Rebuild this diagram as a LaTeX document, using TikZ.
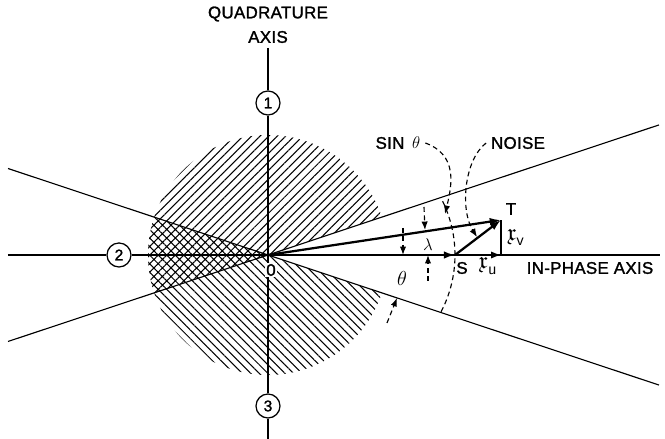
\documentclass[tikz,border=0pt]{standalone}
\usepackage{amssymb}
\usepackage{fontspec}
\setmainfont{Liberation Sans}
\newfontfamily\capsfont[LetterSpace=2,FakeBold=1.5]{Liberation Sans}
\usetikzlibrary{arrows.meta,patterns.meta}

\begin{document}
\begin{tikzpicture}[x=0.025cm, y=0.025cm, font=\capsfont\fontsize{12}{14}\selectfont]
  \tikzset{
    numcircle/.style={circle, draw, fill=white, line width=0.9pt, minimum size=0.6cm, inner sep=0pt, font=\capsfont\fontsize{11}{13}\selectfont},
    vec/.style={line width=1.6pt, -{Latex[length=8pt,width=5.5pt]}},
    dimarrow/.style={line width=0.8pt, dash pattern=on 3.5pt off 2.5pt, -{Latex[length=6pt,width=4.5pt]}},
    thinline/.style={line width=0.8pt}
  }
  \useasboundingbox (-268,-184) rectangle (397,255);

  % Hatched disc round the origin
  \fill[pattern={Lines[angle=45,distance=4.3pt,line width=0.75pt]}]
    (0,0) -- (18.4:120) arc[start angle=18.4, end angle=161.6, radius=120] -- cycle;
  \fill[pattern={Lines[angle=-45,distance=4.3pt,line width=0.75pt]}]
    (0,0) -- (198.4:120) arc[start angle=198.4, end angle=341.6, radius=120] -- cycle;
  % Cross-hatched wedge on the left
  \fill[pattern={Hatch[angle=45,distance=4.3pt,line width=0.75pt]}]
    (0,0) -- (161.6:120) arc[start angle=161.6, end angle=198.4, radius=120] -- cycle;

  % Points
  \coordinate (O) at (0,0);
  \coordinate (S) at (187,0);
  \coordinate (T) at (233,35);
  \coordinate (U) at (233,0);
  \coordinate (qtop) at (0,207);
  \coordinate (qbot) at (0,-184);
  \coordinate (ileft) at (-260,0);
  \coordinate (iright) at (392,0);
  \coordinate (ulend) at (161.6:274);
  \coordinate (lrend) at (-18.4:412);
  \coordinate (llend) at (198.4:274);
  \coordinate (urend) at (18.4:412);

  % Circled region numbers
  \node[numcircle] (c1) at (0,152) {1};
  \node[numcircle] (c2) at (-149,0) {2};
  \node[numcircle] (c3) at (0,-151) {3};

  % Axes
  \draw[thinline] (qtop) -- (c1) -- (c3) -- (qbot);
  \draw[thinline] (ileft) -- (c2) -- (iright);

  % Two lines at angle theta through the origin
  \draw[thinline] (ulend) -- (lrend);
  \draw[thinline] (llend) -- (urend);

  % Signal, noise and resultant
  \draw[vec] (O) -- (S);
  \draw[vec] (O) -- (T);
  \draw[vec] (S) -- (T);
  \draw[thinline, -{Latex[length=7pt,width=5pt]}] (S) -- (U);
  \draw[thinline] (U) -- (T);

  % Dashed arc through S
  \draw[thinline, dash pattern=on 3.5pt off 2.5pt] (64,0) ++(-27.5:123) arc[start angle=-27.5, end angle=27.5, radius=123];

  % Angle markers
  \coordinate (thA) at (135,27);
  \coordinate (thB) at (135,0);
  \coordinate (thC) at (119,-68);
  \coordinate (thD) at (129,-43);
  \draw[dimarrow] (thA) -- (thB);
  \draw[dimarrow] (thC) -- (thD);
  \coordinate (laA) at (156,48);
  \coordinate (laB) at (157,25);
  \coordinate (laC) at (160,-26);
  \coordinate (laD) at (160,0);
  \draw[dimarrow] (laA) -- (laB);
  \draw[dimarrow] (laC) -- (laD);

  % Labels
  \node (quad) at (0,241) {QUADRATURE};
  \node (qaxis) at (0,218) {AXIS};
  \node (inphase) at (322,-13) {IN-PHASE AXIS};
  \node[fill=white, inner sep=1pt] (olab) at (3,-15) {0};
  \node (slab) at (194,-13) {S};
  \node (tlab) at (243,46) {T};
  \node (xulab) at (220,-11) {$\scalebox{1.4}{$\mathfrak{x}$}_{\textsf{u}}$};
  \node (xvlab) at (248,18) {$\scalebox{1.4}{$\mathfrak{x}$}_{\textsf{v}}$};
  \node[font=\Large] (thlab) at (134,-23) {$\theta$};
  \node[font=\large] (lalab) at (160,10) {$\lambda$};
  \node (sinlab) at (130,112) {SIN \,{\large$\theta$}};
  \node (noiselab) at (250,112) {NOISE};

  % Pointers from the labels
  \coordinate (sinend) at (177,41);
  \coordinate (noiseend) at (209,18);
  \draw[dimarrow] (sinlab.east) .. controls (190,100) and (184,70) .. (sinend);
  \draw[dimarrow] (noiselab.west) .. controls (196,95) and (192,45) .. (noiseend);
\end{tikzpicture}
\end{document}
